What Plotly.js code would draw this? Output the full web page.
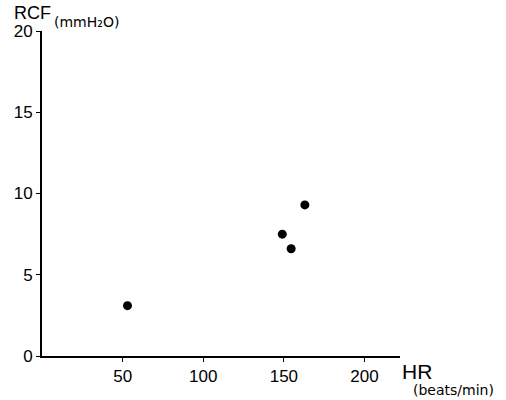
<!DOCTYPE html>
<html>
<head>
<meta charset="utf-8">
<script src="https://cdn.plot.ly/plotly-3.0.1.min.js"></script>
<style>html,body{margin:0;padding:0;background:#fff;}#chart{width:506px;height:400px;}</style>
</head>
<body>
<div id="chart"></div>
<script>
const heartRate = [53, 149, 154.5, 163];
const rcf = [3.1, 7.5, 6.6, 9.3];
const xTicks = [50, 100, 150, 200];
const yTicks = [0, 5, 10, 15, 20];

const trace = {
  x: heartRate, y: rcf, type: 'scatter', mode: 'markers',
  marker: {color: '#000', size: 9}, hoverinfo: 'none', showlegend: false
};

const FONT = 'Liberation Sans, Arial, sans-serif';
const layout = {
  width: 506, height: 400,
  margin: {l: 42, r: 106, t: 31, b: 44},
  paper_bgcolor: '#fff', plot_bgcolor: '#fff',
  font: {family: FONT, color: '#000'},
  xaxis: {
    range: [0, 222], showgrid: false, zeroline: false,
    showline: true, linecolor: '#000', linewidth: 2,
    ticks: 'outside', ticklen: 4, tickwidth: 1, tickcolor: '#000',
    tickvals: xTicks, ticktext: xTicks.map(String),
    tickfont: {size: 17, family: FONT}
  },
  yaxis: {
    range: [0, 20], showgrid: false, zeroline: false,
    showline: true, linecolor: '#000', linewidth: 2,
    ticks: 'outside', ticklen: 4, tickwidth: 1, tickcolor: '#000',
    tickvals: yTicks, ticktext: yTicks.map(String),
    tickfont: {size: 17, family: FONT}
  },
  annotations: [
    {xref: 'paper', yref: 'paper', x: -0.081, y: 1.0, yshift: 18, xanchor: 'left', yanchor: 'middle',
     text: 'RCF', showarrow: false, borderpad: 0, font: {size: 18, family: FONT}},
    {xref: 'paper', yref: 'paper', x: 0.031, y: 1.0, yshift: 9, xanchor: 'left', yanchor: 'middle',
     text: '(mmH₂O)', showarrow: false, borderpad: 0, font: {size: 14, family: 'DejaVu Sans, sans-serif'}},
    {xref: 'paper', yref: 'paper', x: 1.0, y: 0, yshift: -15, xshift: 1, xanchor: 'left', yanchor: 'middle',
     text: 'HR', showarrow: false, borderpad: 0, font: {size: 21, family: FONT}},
    {xref: 'paper', yref: 'paper', x: 1.0, y: 0, yshift: -34, xshift: 12, xanchor: 'left', yanchor: 'middle',
     text: '(beats/min)', showarrow: false, borderpad: 0, font: {size: 14, family: 'DejaVu Sans, sans-serif'}}
  ]
};

Plotly.newPlot('chart', [trace], layout, {displayModeBar: false, staticPlot: true});
</script>
</body>
</html>
